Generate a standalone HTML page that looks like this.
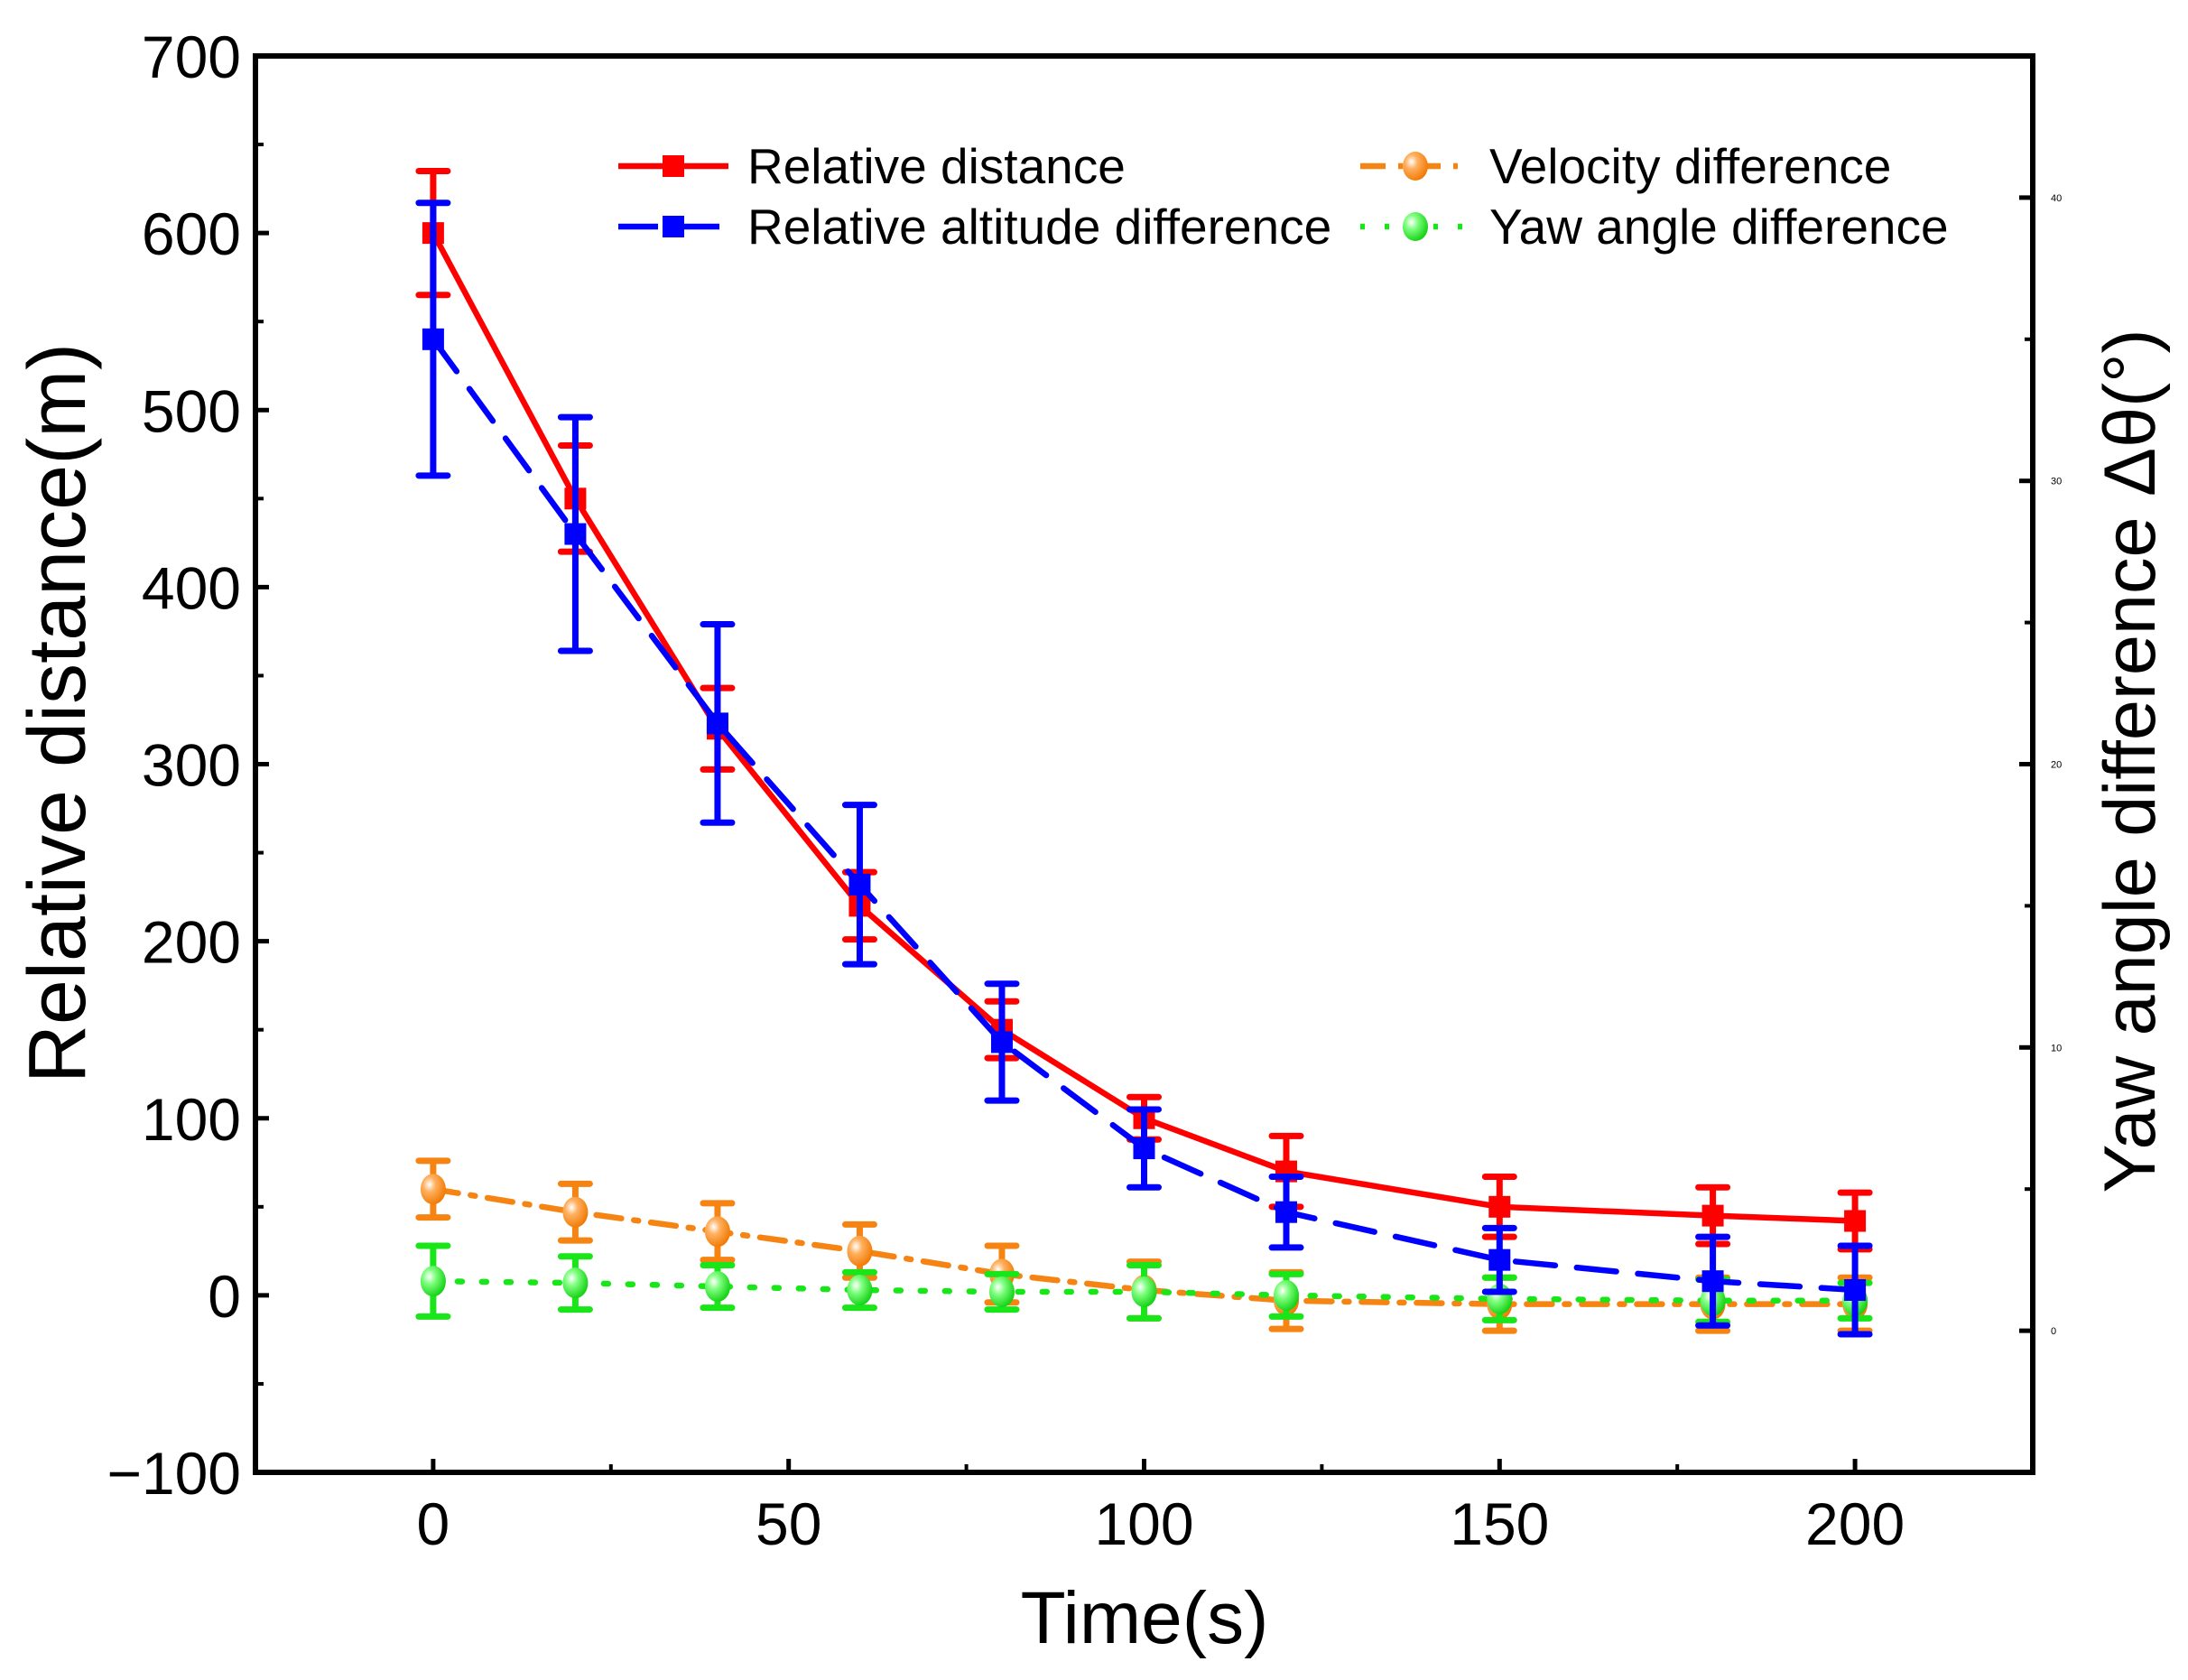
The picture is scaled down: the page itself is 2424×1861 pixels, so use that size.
<!DOCTYPE html>
<html><head><meta charset="utf-8"><style>
html,body{margin:0;padding:0;background:#fff}
svg{display:block;font-family:"Liberation Sans",Arial,sans-serif}
</style></head><body>
<svg id="chart" width="2424" height="1861" viewBox="0 0 2424 1861">
<defs>
<radialGradient id="gO" cx="0.35" cy="0.35" r="0.7"><stop offset="0" stop-color="#fff"/><stop offset="0.35" stop-color="#ffb060"/><stop offset="1" stop-color="#f07800"/></radialGradient>
<radialGradient id="gG" cx="0.35" cy="0.35" r="0.7"><stop offset="0" stop-color="#fff"/><stop offset="0.35" stop-color="#80ff80"/><stop offset="1" stop-color="#10d010"/></radialGradient>
</defs>
<g id="marks"></g>
<g id="axes"></g>
</svg>
<script>
const xValues=[0,20,40,60,80,100,120,150,180,200];
const distValues=[600,450,320,220,150,100,70,50,45,42];
const distErr=[35,30,23,19,16,12,20,17,16,16];
const altValues=[540,430,323,232,143,83,47,20,8,3];
const altErr=[77,66,56,45,33,22,20,18,25,25];
const velValues=[60,47,36,25,12,3,-3,-5,-5,-5];
const velErr=[16,16,16,15,16,16,16,15,15,15];
const yawValues=[8,7,5,3,2,2,0,-2,-3,-3];
const yawErr=[20,15,12,10,10,15,12,12,12,10];
const xTicks=[0,50,100,150,200];
const yTicks=[-100,0,100,200,300,400,500,600,700];
const y2Ticks=[0,10,20,30,40];

const L=283,R=2252,T=62,B=1631;
const X=v=>L+(v+25)/250*(R-L);
const Y=v=>B-(v+100)/800*(B-T);
const Y2=v=>B-(v+5)/50*(B-T);
const NS="http://www.w3.org/2000/svg";
const marks=document.getElementById('marks'),axes=document.getElementById('axes');
function el(tag,attrs,parent){const e=document.createElementNS(NS,tag);for(const k in attrs)e.setAttribute(k,attrs[k]);parent.appendChild(e);return e;}

function series(name,vals,errs,color,dash,marker,fill){
  const g=el('g',{},marks);
  
  
  const pts=xValues.map((x,i)=>X(x)+','+Y(vals[i])).join(' ');
  const line=el('polyline',{points:pts,fill:'none',stroke:color,'stroke-width':6.5,'stroke-dasharray':dash,'stroke-linecap':'round'},g);
  
  
  xValues.forEach((x,i)=>{
    const cx=X(x),hi=Y(vals[i]+errs[i]),lo=Y(vals[i]-errs[i]);
    const eb=el('path',{d:`M${cx},${hi}V${lo}M${cx-16},${hi}H${cx+16}M${cx-16},${lo}H${cx+16}`,stroke:color,'stroke-width':7,'stroke-linecap':'round',fill:'none'},g);
    
    
    let m;
    if(marker==='sq'){m=el('rect',{x:cx-12,y:Y(vals[i])-12,width:24,height:24,fill:color},g);}
    else{m=el('ellipse',{cx:cx,cy:Y(vals[i]),rx:14,ry:17,fill:fill},g);}
    
    
  });
}
series('velocity-difference',velValues,velErr,'#f58413','28 14 5 14','c','url(#gO)');
series('yaw-angle-difference',yawValues,yawErr,'#18e618','5 22','c','url(#gG)');
series('relative-distance',distValues,distErr,'#ff0000','','sq');
series('relative-altitude-difference',altValues,altErr,'#0000ff','44 24','sq');

const fr=el('rect',{x:L,y:T,width:R-L,height:B-T,fill:'none',stroke:'#000','stroke-width':6},axes);


function txt(s,x,y,size,anchor,extra){const t=el('text',Object.assign({x:x,y:y,'font-size':size,'text-anchor':anchor,fill:'#000'},extra||{}),axes);t.textContent=s;return t;}
xTicks.forEach(v=>{
  el('line',{x1:X(v),x2:X(v),y1:B,y2:B-15,stroke:'#000','stroke-width':5},axes);
  el('line',{x1:X(v+25),x2:X(v+25),y1:B,y2:B-9,stroke:'#000','stroke-width':4},axes);
  const t=txt(String(v),X(v),B+80,66,'middle');
  
  
});
el('line',{x1:X(-25),x2:X(-25),y1:B,y2:B-9,stroke:'#000','stroke-width':4},axes);
yTicks.forEach(v=>{
  el('line',{x1:L,x2:L+15,y1:Y(v),y2:Y(v),stroke:'#000','stroke-width':5},axes);
  if(v<700)el('line',{x1:L,x2:L+9,y1:Y(v+50),y2:Y(v+50),stroke:'#000','stroke-width':4},axes);
  const t=txt(v<0?'\u2212'+(-v):String(v),L-16,Y(v)+24,66,'end');
  
  
});
y2Ticks.forEach(v=>{
  el('line',{x1:R,x2:R-15,y1:Y2(v),y2:Y2(v),stroke:'#000','stroke-width':5},axes);
  el('line',{x1:R,x2:R-9,y1:Y2(v+5),y2:Y2(v+5),stroke:'#000','stroke-width':4},axes);
  const t=txt(String(v),R+20,Y2(v)+4,11,'start');
  
  
});
let t=txt('Time(s)',1268,1820,82,'middle');


t=txt('Relative distance(m)',0,0,90,'middle',{transform:'translate(94,790) rotate(-90)'});


t=txt('Yaw angle difference \u0394\u03b8(\u00b0)',0,0,81,'middle',{transform:'translate(2387,843) rotate(-90)'});



const leg=[['Relative distance','#ff0000','','sq',685,184],['Relative altitude difference','#0000ff','44 24','sq',685,251],
['Velocity difference','#f58413','28 14 5 14','url(#gO)',1507,184],['Yaw angle difference','#18e618','5 22','url(#gG)',1507,251]];
leg.forEach(d=>{
  const g=el('g',{},axes);
  
  
  el('line',{x1:d[4],x2:d[4]+122,y1:d[5],y2:d[5],stroke:d[1],'stroke-width':6.5,'stroke-dasharray':d[2]},g);
  if(d[3]==='sq')el('rect',{x:d[4]+49,y:d[5]-12,width:24,height:24,fill:d[1]},g);
  else el('ellipse',{cx:d[4]+61,cy:d[5],rx:14,ry:16,fill:d[3]},g);
  const tt=el('text',{x:d[4]+143,y:d[5]+19,'font-size':55,fill:'#000'},g);tt.textContent=d[0];
});
</script>
</body></html>
